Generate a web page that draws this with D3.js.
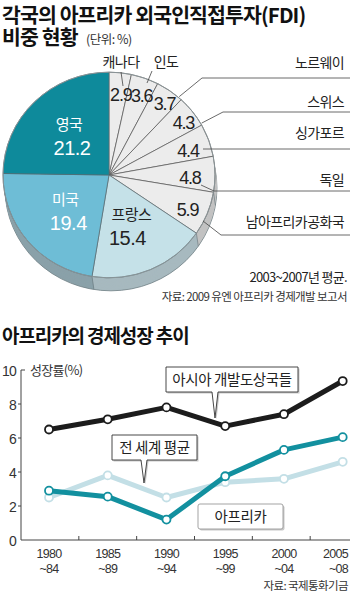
<!DOCTYPE html>
<html><head><meta charset="utf-8">
<script src="https://cdn.jsdelivr.net/npm/d3@7"></script>
<style>
body{margin:0;background:#fff;}
svg{display:block;font-family:"Noto Sans CJK KR","Noto Sans",sans-serif;}
</style></head><body>
<svg id="c" width="350" height="593"></svg>
<script>
// ---- data: FDI share pie ----
const fdiCountries = ["캐나다","인도","노르웨이","스위스","싱가포르","독일","남아프리카공화국","프랑스","미국","영국"];
const fdiShares = [2.9,3.6,3.7,4.3,4.4,4.8,5.9,15.4,19.4,21.2];

// ---- data: growth lines ----
const periodsTop = ["1980","1985","1990","1995","2000","2005"];
const periodsBottom = ["~84","~89","~94","~99","~04","~08"];
const asiaGrowth = [6.5,7.1,7.8,6.7,7.4,9.35];
const worldGrowth = [2.5,3.8,2.5,3.4,3.6,4.6];
const africaGrowth = [2.9,2.55,1.2,3.75,5.3,6.05];
const yTicks = [0,2,4,6,8,10];

const svg = d3.select("#c");

// ---------- Titles ----------
const t1 = svg.append("text").attr("font-size",20.5).attr("font-weight",700)
  .attr("letter-spacing",-0.9).attr("fill","#111");
t1.append("tspan").attr("x",2).attr("y",23).text("각국의 아프리카 외국인직접투자(FDI)");
t1.append("tspan").attr("x",2).attr("y",45).text("비중 현황");
t1.append("tspan").attr("x",86).attr("y",44).attr("font-size",12.5).attr("font-weight",400)
  .attr("fill","#333").attr("letter-spacing",-0.5).text("(단위: %)");

// ---------- Pie ----------
const cx=109, cy=175, R=106, sy=0.97, depth=13;
const pie = d3.pie().sort(null).value(d=>d.v);
const arcs = pie(fdiCountries.map((c,i)=>({c, v:fdiShares[i]})));
const arc = d3.arc().innerRadius(0).outerRadius(R);
const topColor = c => c==="영국"?"#0e8a9b": c==="미국"?"#6ebdd6": c==="프랑스"?"#c5e1e8":"#ececec";
const sideColor = c => c==="영국"?"#0a6571": c==="미국"?"#8aa1a9": c==="프랑스"?"#a7b9bf":"#c2c2c2";

for (let k=depth;k>=1;k--){
  const g = svg.append("g").attr("transform",`translate(${cx+k*0.15},${cy+k}) scale(1,${sy})`);
  g.selectAll("path").data(arcs).join("path").attr("d",arc).attr("fill",d=>sideColor(d.data.c));
  if(k===depth){
    g.append("circle").attr("r",R).attr("fill","none").attr("stroke","#6d7d83").attr("stroke-width",0.8)
      .attr("vector-effect","non-scaling-stroke");
  }
}
// side seams
arcs.forEach(d=>{
  const a=d.startAngle;
  const x=R*Math.sin(a), y=-R*Math.cos(a)*sy;
  if (y>0) svg.append("line").attr("x1",cx+x).attr("y1",cy+y).attr("x2",cx+x+depth*0.15).attr("y2",cy+y+depth)
     .attr("stroke","#6d7d83").attr("stroke-width",0.7);
});

const gTop = svg.append("g").attr("transform",`translate(${cx},${cy}) scale(1,${sy})`);
gTop.selectAll("path").data(arcs).join("path").attr("d",arc)
  .attr("fill",d=>topColor(d.data.c))
  .attr("stroke",d=>["영국","미국","프랑스"].includes(d.data.c)?"#5a6a70":"#555")
  .attr("stroke-width",0.7).attr("vector-effect","non-scaling-stroke");
gTop.append("circle").attr("r",R).attr("fill","none").attr("stroke","#8a9599").attr("stroke-width",0.9)
  .attr("vector-effect","non-scaling-stroke");

const polar = (a, r) => [cx + r*Math.sin(a), cy - r*Math.cos(a)*sy];

// value labels for small slices
const deg = Math.PI/180;
arcs.slice(0,7).forEach((d,i)=>{
  const mid=(d.startAngle+d.endAngle)/2 + 2*deg;
  const rr=[84,88,92,92,83,81,86][i];
  const p=polar(mid, rr);
  svg.append("text").attr("x",p[0]).attr("y",p[1]+6.5).attr("text-anchor","middle")
    .attr("font-family","'Liberation Sans',Arial,sans-serif").attr("font-size",18).attr("letter-spacing",-1.2)
    .attr("fill","#222").text(d.data.v);
});
// big slice labels
arcs.slice(7).forEach(d=>{
  const mid=(d.startAngle+d.endAngle)/2;
  const p=polar(mid, 57);
  const col = d.data.c==="프랑스"?"#222":"#fff";
  svg.append("text").attr("x",p[0]).attr("y",p[1]-6).attr("text-anchor","middle")
    .attr("font-size",15).attr("fill",col).attr("letter-spacing",-0.5).text(d.data.c);
  svg.append("text").attr("x",p[0]+(d.data.c==="프랑스"?-4:3)).attr("y",p[1]+19).attr("text-anchor","middle")
    .attr("font-family","'Liberation Sans',Arial,sans-serif").attr("font-size",20).attr("letter-spacing",-0.5)
    .attr("fill",col).text(d.data.v);
});

// outer labels with leaders
const lead = {stroke:"#444", w:0.8};
function leader(pts){
  svg.append("path").attr("d",d3.line()(pts)).attr("fill","none").attr("stroke",lead.stroke).attr("stroke-width",lead.w);
}
function outLabel(txt,x,y,anchor){
  svg.append("text").attr("x",x).attr("y",y).attr("text-anchor",anchor).attr("font-size",14)
    .attr("letter-spacing",-0.6).attr("fill","#222").text(txt);
}
outLabel(fdiCountries[0],121,67,"middle");
leader([[121,72],[123,86]]);
outLabel(fdiCountries[1],166,67,"middle");
leader([[152,71],[147,83]]);
outLabel(fdiCountries[2],344,68,"end");
leader([polar(41*deg,R+1),[202,78],[350,78]]);
outLabel(fdiCountries[3],344,107,"end");
leader([polar(60*deg,R+1),[223,112],[350,112]]);
outLabel(fdiCountries[4],344,138,"end");
leader([[203,149],[350,149]]);
outLabel(fdiCountries[5],344,185,"end");
leader([[201,185],[214,191],[350,191]]);
outLabel(fdiCountries[6],344,227,"end");
leader([[203,221],[221,235],[350,235]]);

svg.append("text").attr("x",347).attr("y",282).attr("text-anchor","end").attr("font-size",13)
  .attr("letter-spacing",-0.7).attr("fill","#222").text("2003~2007년 평균.");
svg.append("text").attr("x",347).attr("y",301).attr("text-anchor","end").attr("font-size",11.5)
  .attr("letter-spacing",-0.6).attr("fill","#333").text("자료: 2009 유엔 아프리카 경제개발 보고서");

// ---------- Line chart ----------
svg.append("text").attr("x",2).attr("y",343).attr("font-size",19).attr("font-weight",700)
  .attr("letter-spacing",-1.1).attr("fill","#111").text("아프리카의 경제성장 추이");

const x = d3.scalePoint().domain(periodsTop).range([49,342.7]);
const xb = d3.scaleBand().domain(periodsTop).range([21,368]);
const y = d3.scaleLinear().domain([0,10]).range([540,370]);

// axes
svg.append("line").attr("x1",21).attr("x2",21).attr("y1",y(10)).attr("y2",y(0)).attr("stroke","#444").attr("stroke-width",1);
svg.append("line").attr("x1",21).attr("x2",350).attr("y1",y(0)).attr("y2",y(0)).attr("stroke","#444").attr("stroke-width",1);
svg.append("line").attr("x1",21).attr("x2",25).attr("y1",y(10)).attr("y2",y(10)).attr("stroke","#444");
yTicks.slice(1,5).forEach(t=>{
  svg.append("line").attr("x1",18).attr("x2",21).attr("y1",y(t)).attr("y2",y(t)).attr("stroke","#444");
});
yTicks.forEach(t=>{
  svg.append("text").attr("x",16).attr("y",y(t)+5.5).attr("text-anchor","end").attr("font-size",14)
    .attr("font-family","'Liberation Sans',Arial,sans-serif").attr("letter-spacing",-0.8).attr("fill","#333").text(t);
});
svg.append("text").attr("x",30).attr("y",y(10)+5).attr("font-size",13).attr("letter-spacing",-0.7)
  .attr("fill","#333").text("성장률(%)");
periodsTop.slice(1).forEach(p=>{
  const bx=xb(p);
  svg.append("line").attr("x1",bx).attr("x2",bx).attr("y1",y(0)).attr("y2",y(0)-4).attr("stroke","#444");
});
periodsTop.forEach((p,i)=>{
  const last=i===periodsTop.length-1;
  const tx= last?348:x(p);
  const an= last?"end":"middle";
  svg.append("text").attr("x",tx).attr("y",558).attr("text-anchor",an).attr("font-size",12.5)
    .attr("font-family","'Liberation Sans',Arial,sans-serif").attr("letter-spacing",-0.7).attr("fill","#333").text(p);
  svg.append("text").attr("x",tx).attr("y",573).attr("text-anchor",an).attr("font-size",12.5)
    .attr("font-family","'Liberation Sans',Arial,sans-serif").attr("letter-spacing",-0.7).attr("fill","#333").text(periodsBottom[i]);
});
svg.append("text").attr("x",348).attr("y",590).attr("text-anchor","end").attr("font-size",11.5)
  .attr("letter-spacing",-0.6).attr("fill","#333").text("자료: 국제통화기금");

// callouts
function callout(x0,y0,x1,y1,tail,txt,stroke){
  let d;
  if(tail){
    const [tx,ty]=tail;
    d=`M${x0},${y0}H${x1}V${y1}H${tx+3}L${tx},${ty}L${tx-3},${y1}H${x0}Z`;
  } else {
    d=`M${x0+2},${y0}H${x1-2}Q${x1},${y0} ${x1},${y0+2}V${y1-2}Q${x1},${y1} ${x1-2},${y1}H${x0+2}Q${x0},${y1} ${x0},${y1-2}V${y0+2}Q${x0},${y0} ${x0+2},${y0}Z`;
  }
  svg.append("path").attr("d",d).attr("transform","translate(1.5,1.5)").attr("fill","#c8c8c8");
  svg.append("path").attr("d",d).attr("fill","#fff").attr("stroke",stroke).attr("stroke-width",0.9);
  svg.append("text").attr("x",(x0+x1)/2).attr("y",(y0+y1)/2+5.5).attr("text-anchor","middle")
    .attr("font-size",14.5).attr("letter-spacing",-0.4).attr("fill","#222").text(txt);
}

// lines
function series(vals,color,w){
  const pts=vals.map((v,i)=>[x(periodsTop[i]),y(v)]);
  svg.append("path").attr("d",d3.line()(pts)).attr("fill","none").attr("stroke",color)
    .attr("stroke-width",w).attr("stroke-linejoin","round");
  svg.selectAll(null).data(pts).join("circle").attr("cx",d=>d[0]).attr("cy",d=>d[1]).attr("r",4)
    .attr("fill","#fff").attr("stroke",color).attr("stroke-width",1.8);
}
series(worldGrowth,"#c3dfe6",5);
series(africaGrowth,"#12909f",5);
series(asiaGrowth,"#1c1c1c",5);

callout(166,367,298,392,[215,418],"아시아 개발도상국들","#333");
callout(112,435,197,460,[144,483],"전 세계 평균","#333");
callout(198,504,283,529,null,"아프리카","#999");
</script></body></html>
